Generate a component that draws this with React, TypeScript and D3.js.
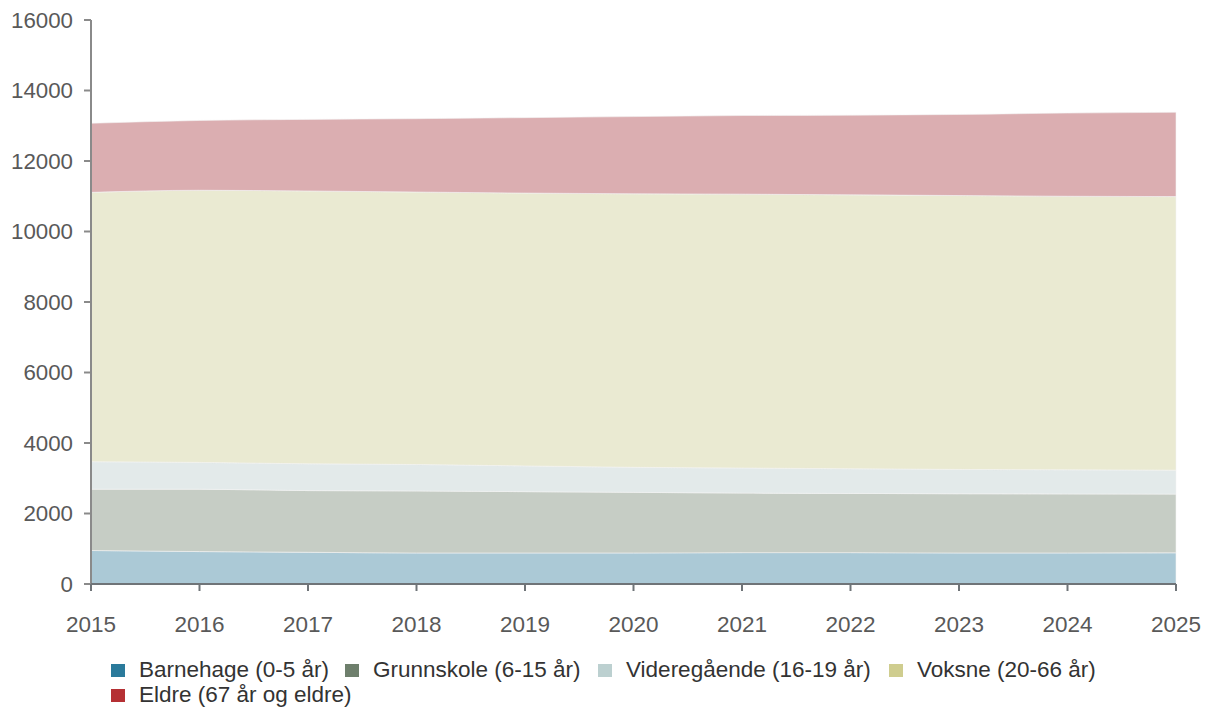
import React from "react";
import * as d3 from "d3";

const years = [2015, 2016, 2017, 2018, 2019, 2020, 2021, 2022, 2023, 2024, 2025];
const barnehage = [950, 920, 900, 880, 880, 880, 890, 890, 880, 880, 885];
const grunnskole = [1740, 1770, 1750, 1760, 1740, 1720, 1690, 1680, 1680, 1675, 1665];
const videregaende = [780, 760, 760, 750, 730, 710, 710, 700, 690, 685, 680];
const voksne = [7640, 7720, 7740, 7730, 7740, 7760, 7770, 7770, 7770, 7760, 7760];
const eldre = [1960, 1980, 2030, 2080, 2140, 2190, 2230, 2260, 2300, 2360, 2392];

const seriesNames = [
  "Barnehage (0-5 år)",
  "Grunnskole (6-15 år)",
  "Videregående (16-19 år)",
  "Voksne (20-66 år)",
  "Eldre (67 år og eldre)",
];
const seriesColors = ["#2a7a9b", "#6e7f6c", "#bcd0d0", "#cfcd8f", "#b53034"];
const areaColors = ["#abc9d6", "#c6cdc5", "#e3eaea", "#eaead2", "#dbaeb1"];
const yTicks = [0, 2000, 4000, 6000, 8000, 10000, 12000, 14000, 16000];

const W = 1207;
const H = 707;
const x0 = 91, x1 = 1176, yBottom = 584, yTop = 20;
const font = "'Liberation Sans', Arial, sans-serif";

export default function App() {
  const x = d3.scaleLinear().domain([2015, 2025]).range([x0, x1]);
  const y = d3.scaleLinear().domain([0, 16000]).range([yBottom, yTop]);
  const arrays = [barnehage, grunnskole, videregaende, voksne, eldre];
  const rows = years.map((yr, i) => {
    const r: any = { year: yr };
    arrays.forEach((a, k) => (r["s" + k] = a[i]));
    return r;
  });
  const stack = d3.stack().keys(arrays.map((_, k) => "s" + k));
  const stacked = stack(rows);
  const area = d3
    .area<any>()
    .x((d) => x(d.data.year))
    .y0((d) => y(d[0]))
    .y1((d) => y(d[1]))
    .curve(d3.curveMonotoneX);

  const legendItems = [
    { i: 0, sx: 111, tx: 139, row: 0 },
    { i: 1, sx: 345, tx: 373, row: 0 },
    { i: 2, sx: 598, tx: 626, row: 0 },
    { i: 3, sx: 889, tx: 917, row: 0 },
    { i: 4, sx: 111, tx: 139, row: 1 },
  ];

  return (
    <svg width={W} height={H} style={{ position: "absolute", left: 0, top: 0, background: "#fff" }}>
      {stacked.map((s, k) => (
        <path key={k} d={area(s as any) || ""} fill={areaColors[k]} stroke="#f4f4f4" strokeWidth={0.6} />
      ))}
      {/* y axis */}
      <line x1={x0} x2={x0} y1={yTop} y2={yBottom} stroke="#8a8a8a" strokeWidth={2} />
      {yTicks.map((t) => (
        <g key={t}>
          <line x1={x0 - 7} x2={x0} y1={y(t)} y2={y(t)} stroke="#8a8a8a" strokeWidth={2} />
          <text
            x={73}
            y={y(t)}
            dy="0.35em"
            textAnchor="end"
            fontFamily={font}
            fontSize={22.3}
            fill="#595959"
          >
            {t}
          </text>
        </g>
      ))}
      {/* x axis */}
      <line x1={x0} x2={x1} y1={yBottom} y2={yBottom} stroke="#6f7478" strokeWidth={2} />
      {years.map((yr) => (
        <g key={yr}>
          <line x1={x(yr)} x2={x(yr)} y1={yBottom} y2={yBottom + 7} stroke="#6f7478" strokeWidth={2} />
          <text
            x={x(yr)}
            y={632}
            textAnchor="middle"
            fontFamily={font}
            fontSize={22.5}
            fill="#595959"
          >
            {yr}
          </text>
        </g>
      ))}
      {/* legend */}
      {legendItems.map((l) => (
        <g key={l.i}>
          <rect x={l.sx} y={664 + l.row * 25} width={14} height={13} fill={seriesColors[l.i]} />
          <text x={l.tx} y={677 + l.row * 25} fontFamily={font} fontSize={22.5} fill="#333">
            {seriesNames[l.i]}
          </text>
        </g>
      ))}
    </svg>
  );
}
